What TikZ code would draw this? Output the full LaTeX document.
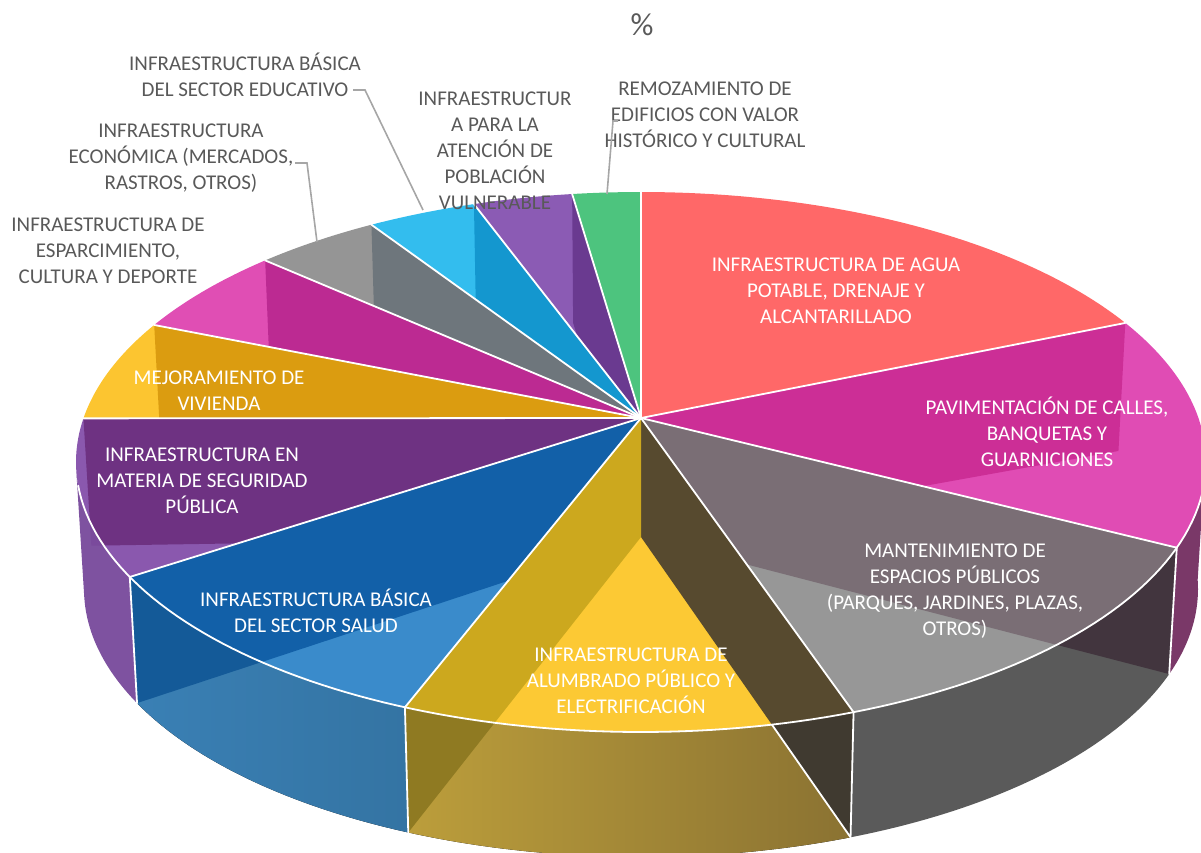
\documentclass[tikz,border=0pt]{standalone}
\usepackage{fontspec}
\setmainfont{Carlito}
\pgfmathdeclarefunction{ax}{1}{\pgfmathparse{641+565*cos(#1)}}
\pgfmathdeclarefunction{ay}{1}{\pgfmathparse{462-270*sin(#1)}}
\pgfmathdeclarefunction{bx}{1}{\pgfmathparse{641+557*cos(#1)}}
\pgfmathdeclarefunction{by}{1}{\pgfmathparse{589-268*sin(#1)}}
% top colours
\definecolor{cRed}{HTML}{FF6868}
\definecolor{cGreen}{HTML}{4DC47E}
\definecolor{cViolet}{HTML}{8B5BB4}
\definecolor{cCyan}{HTML}{33BDEE}
\definecolor{cGrayB}{HTML}{959595}
\definecolor{cPink}{HTML}{E04EB4}
\definecolor{cGold}{HTML}{FCC530}
\definecolor{cPurple}{HTML}{8A58AE}
\definecolor{cBlue}{HTML}{3A8BCB}
\definecolor{cYellow}{HTML}{FCC934}
\definecolor{cGray}{HTML}{979797}
\definecolor{cMag}{HTML}{E04CB4}
% side colours
\definecolor{sPurple}{HTML}{7E52A0}
\definecolor{sBlueL}{HTML}{3A80B5}
\definecolor{sBlueR}{HTML}{3474A3}
\definecolor{sYelL}{HTML}{BC9E3B}
\definecolor{sYelR}{HTML}{8A7232}
\definecolor{sGray}{HTML}{5A5A5A}
\definecolor{sMag}{HTML}{7A3868}
% wall (darker) colours
\definecolor{dMag}{HTML}{CC2E96}
\definecolor{dGrayT}{HTML}{7A6E75}
\definecolor{dGrayS}{HTML}{42353E}
\definecolor{dYelRT}{HTML}{574A2F}
\definecolor{dYelRS}{HTML}{403A30}
\definecolor{dYelLT}{HTML}{CCA81E}
\definecolor{dYelLS}{HTML}{8F7A22}
\definecolor{dBlueT}{HTML}{1260A8}
\definecolor{dBlueS}{HTML}{145A98}
\definecolor{dPurT}{HTML}{6E3282}
\definecolor{dPurS}{HTML}{7A4A9C}
\definecolor{dGold}{HTML}{DB9C10}
\definecolor{dPink}{HTML}{BC2A92}
\definecolor{dGrayB}{HTML}{6E767C}
\definecolor{dCyan}{HTML}{1497CF}
\definecolor{dViolet}{HTML}{6A3A90}
\definecolor{labgray}{HTML}{595959}
\definecolor{leadgray}{HTML}{A6A6A6}
\newcommand\TopSec[3]{\fill[#3] (C1) -- plot[domain=#1:#2,samples=60,variable=\t] ({ax(\t)},{ay(\t)}) -- cycle;}
\newcommand\SideSec[3]{\fill[#3] plot[domain=#1:#2,samples=60,variable=\t] ({ax(\t)},{ay(\t)}) -- plot[domain=#2:#1,samples=60,variable=\t] ({bx(\t)},{by(\t)}) -- cycle;}
\newcommand\SideClip[2]{\clip plot[domain=#1:#2,samples=60,variable=\t] ({ax(\t)},{ay(\t)}) -- plot[domain=#2:#1,samples=60,variable=\t] ({bx(\t)},{by(\t)}) -- cycle;}
\newcommand\WallClip[1]{\clip (C1) -- ({ax(#1)},{ay(#1)}) -- ({bx(#1)},{by(#1)}) -- (C2) -- cycle;}
\begin{document}
\begin{tikzpicture}[x=1pt,y=-1pt,
  inlab/.style={text=white,align=center,font=\fontsize{21}{26}\selectfont,inner sep=0pt},
  outlab/.style={text=labgray,align=center,font=\fontsize{21}{26}\selectfont,inner sep=0pt},
  leadln/.style={draw=leadgray,line width=1.6pt},
  wline/.style={draw=white,line width=1.8pt,line join=round,line cap=round}]
\useasboundingbox (0,0) rectangle (1201,852);
\coordinate (C1) at (641,418);
\coordinate (C2) at (641,537);
\begin{scope}
\clip (0,0) rectangle (1201,852);
% top faces
\TopSec{31}{90}{cRed}
\TopSec{90}{97}{cGreen}
\TopSec{97}{107.2}{cViolet}
\TopSec{107.2}{118.5}{cCyan}
\TopSec{118.5}{131.7}{cGrayB}
\TopSec{131.7}{149.5}{cPink}
\TopSec{149.5}{170.7}{cGold}
\TopSec{170.7}{205.2}{cPurple}
\TopSec{205.2}{245.3}{cBlue}
\TopSec{245.3}{292.1}{cYellow}
\TopSec{292.1}{341.5}{cGray}
\TopSec{341.5}{391}{cMag}
% outer walls
\SideSec{182}{205.2}{sPurple}
\SideSec{205.2}{245.3}{left color=sBlueL,right color=sBlueR}
\SideSec{245.3}{292.1}{left color=sYelL,right color=sYelR}
\SideSec{292.1}{341.5}{sGray}
\SideSec{341.5}{362}{sMag}
% radial walls seen through the slices
\begin{scope}\WallClip{31}\TopSec{341.5}{391}{dMag}\end{scope}
\begin{scope}\WallClip{341.5}\TopSec{292.1}{341.5}{dGrayT}\SideSec{292.1}{341.5}{dGrayS}\end{scope}
\begin{scope}\WallClip{292.1}\TopSec{245.3}{292.1}{dYelRT}\SideSec{245.3}{292.1}{dYelRS}\end{scope}
\begin{scope}\WallClip{245.3}\TopSec{245.3}{292.1}{dYelLT}\SideSec{245.3}{292.1}{dYelLS}\end{scope}
\begin{scope}\WallClip{205.2}\TopSec{205.2}{245.3}{dBlueT}\SideSec{205.2}{245.3}{dBlueS}\end{scope}
\begin{scope}\WallClip{170.7}\TopSec{170.7}{205.2}{dPurT}\SideSec{182}{205.2}{dPurS}\end{scope}
\begin{scope}\WallClip{149.5}\TopSec{149.5}{170.7}{dGold}\end{scope}
\begin{scope}\WallClip{131.7}\TopSec{131.7}{149.5}{dPink}\end{scope}
\begin{scope}\WallClip{118.5}\TopSec{118.5}{131.7}{dGrayB}\end{scope}
\begin{scope}\WallClip{107.2}\TopSec{107.2}{118.5}{dCyan}\end{scope}
\begin{scope}\WallClip{97}\TopSec{97}{107.2}{dViolet}\end{scope}
% white edge of the inner wall seen through the yellow outer wall
\begin{scope}\SideClip{245.3}{292.1}
  \draw[wline] (C2) -- ({bx(292.1)},{by(292.1)});
\end{scope}
% white edges
\foreach \b in {31,90,97,107.2,118.5,131.7,149.5,170.7,205.2,245.3,292.1,341.5}
  \draw[wline] (C1) -- ({ax(\b)},{ay(\b)});
\draw[wline] plot[domain=185:362,samples=120,variable=\t] ({ax(\t)},{ay(\t)});
\foreach \b in {205.2,245.3,292.1,341.5}
  \draw[wline] ({ax(\b)},{ay(\b)}) -- ({bx(\b)},{by(\b)});
\end{scope}
% title
\node[text=labgray,font=\fontsize{32}{36}\selectfont,inner sep=0pt] (title) at (642,25) {\%};
% labels inside
\node[inlab] (lagua) at (836,291) {INFRAESTRUCTURA DE AGUA\\POTABLE, DRENAJE Y\\ALCANTARILLADO};
\node[inlab] (lpav) at (1047,432) {PAVIMENTACIÓN DE CALLES,\\BANQUETAS Y\\GUARNICIONES};
\node[inlab] (lmant) at (955,591) {MANTENIMIENTO DE\\ESPACIOS PÚBLICOS\\(PARQUES, JARDINES, PLAZAS,\\OTROS)};
\node[inlab] (lalum) at (631,681) {INFRAESTRUCTURA DE\\ALUMBRADO PÚBLICO Y\\ELECTRIFICACIÓN};
\node[inlab] (lsalud) at (316,611) {INFRAESTRUCTURA BÁSICA\\DEL SECTOR SALUD};
\node[inlab] (lseg) at (202,481) {INFRAESTRUCTURA EN\\MATERIA DE SEGURIDAD\\PÚBLICA};
\node[inlab] (lviv) at (219,391) {MEJORAMIENTO DE\\VIVIENDA};
% labels outside
\node[outlab] (ledu) at (245,75) {INFRAESTRUCTURA BÁSICA\\DEL SECTOR EDUCATIVO};
\node[outlab] (leco) at (181,158) {INFRAESTRUCTURA\\ECONÓMICA (MERCADOS,\\RASTROS, OTROS)};
\node[outlab] (lesp) at (108,251) {INFRAESTRUCTURA DE\\ESPARCIMIENTO,\\CULTURA Y DEPORTE};
\node[outlab] (lvul) at (495,151) {INFRAESTRUCTUR\\A PARA LA\\ATENCIÓN DE\\POBLACIÓN\\VULNERABLE};
\node[outlab] (lrem) at (705,115) {REMOZAMIENTO DE\\EDIFICIOS CON VALOR\\HISTÓRICO Y CULTURAL};
% leader lines
\coordinate (eduA) at (353,90);
\coordinate (eduB) at (365,90);
\coordinate (eduC) at (423,210);
\draw[leadln] (eduA) -- (eduB) -- (eduC);
\coordinate (ecoA) at (295,163);
\coordinate (ecoB) at (307,163);
\coordinate (ecoC) at (317,242);
\draw[leadln] (ecoA) -- (ecoB) -- (ecoC);
\coordinate (remA) at (618,121);
\coordinate (remB) at (613,121);
\coordinate (remC) at (607,194);
\draw[leadln] (remA) -- (remB) -- (remC);
\end{tikzpicture}
\end{document}
